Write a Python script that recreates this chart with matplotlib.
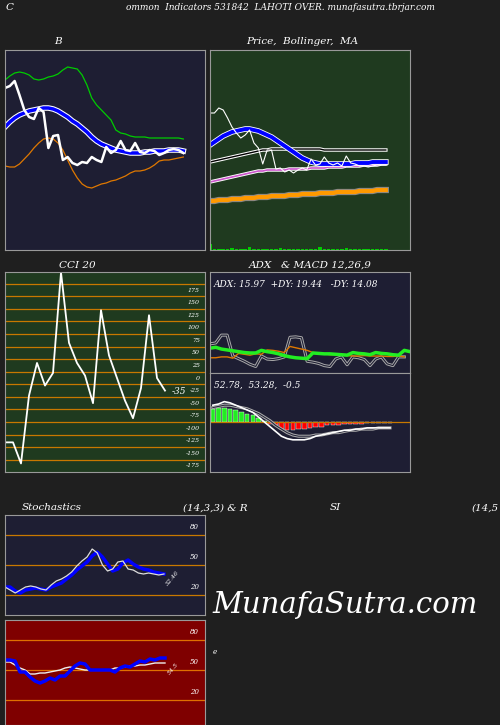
import numpy as np
import matplotlib.pyplot as plt

BG = '#1f1f1f'
NAVY = '#1e1e33'
GREEN_BG = '#1f3a1f'
RED_BG = '#7f0000'
ORANGE = '#c87800'

# Bollinger panel (values in panel units)
bb_close = [162, 164, 169, 155, 140, 133, 131, 142, 138, 102, 114, 115, 90, 93, 87, 85, 88, 87, 93, 90, 88,
            103, 97, 100, 109, 100, 99, 107, 98, 97, 100, 99, 95, 97, 100, 101, 100, 97]
bb_upper = [170, 174, 177, 178, 177, 175, 171, 170, 171, 173, 174, 176, 180, 183, 182, 181, 175, 165, 152, 145,
            140, 135, 130, 120, 117, 116, 114, 113, 113, 113, 112, 112, 112, 112, 112, 112, 112, 111]
bb_mid = [123, 128, 132, 135, 137, 139, 140, 141, 142, 142, 141, 139, 136, 133, 129, 126, 122, 118, 113, 109,
          106, 104, 102, 100, 99, 98, 97, 97, 97, 98, 98, 99, 99, 99, 100, 100, 100, 99]
bb_lower = [84, 83, 83, 86, 91, 96, 102, 107, 111, 112, 111, 107, 100, 90, 80, 72, 66, 63, 62, 64, 66, 67,
            69, 70, 72, 74, 77, 79, 79, 80, 82, 85, 89, 90, 90, 91, 92, 93]

# Price / MA panel
pr_close = [137, 137, 142, 140, 132, 123, 117, 112, 115, 120, 107, 102, 86, 100, 100, 81, 82, 78, 80, 77,
            80, 82, 80, 91, 85, 86, 93, 87, 85, 87, 84, 94, 87, 86, 84, 84, 83, 84, 85, 85, 85]
pr_ma1 = [105, 108, 111, 114, 116, 118, 119, 120, 121, 121, 120, 119, 117, 115, 113, 110, 107, 104, 101, 98,
          95, 92, 90, 88, 87, 86, 86, 86, 86, 86, 86, 86, 86, 87, 87, 87, 87, 88, 88, 88, 88]
pr_ma2 = [88, 89, 90, 91, 92, 93, 94, 95, 96, 97, 98, 99, 100, 100, 101, 101, 101, 101, 101, 101, 101,
          101, 101, 101, 101, 101, 100, 100, 100, 100, 100, 100, 100, 100, 100, 100, 100, 100, 100, 100, 100]
pr_ma3 = [68, 69, 70, 71, 72, 73, 74, 75, 76, 77, 78, 79, 79, 80, 80, 80, 80, 80, 81, 81, 81, 81,
          81, 82, 82, 82, 82, 83, 83, 83, 83, 84, 84, 84, 84, 85, 85, 85, 85, 86, 86]
pr_ma4 = [49, 49, 50, 50, 50, 51, 51, 51, 52, 52, 52, 53, 53, 53, 54, 54, 54, 54, 55, 55, 55,
          56, 56, 56, 56, 57, 57, 57, 57, 58, 58, 58, 58, 58, 59, 59, 59, 59, 60, 60, 60]
pr_vol = [6, 1, 1, 1, 1, 2, 1, 1, 1, 3, 1, 1, 1, 1, 1, 1, 2, 1, 1, 1, 1, 1, 1, 1, 1, 3, 1, 1, 1, 1,
          1, 2, 1, 1, 1, 1, 1, 1, 1, 1, 1]

# CCI 20
cci = [-128, -128, -170, -35, 30, -15, 10, 210, 70, 30, 5, -50, 135, 45, 0, -45, -80, -20, 125, 0, -25]
cci_ticks = [175, 150, 125, 100, 75, 50, 25, 0, -25, -50, -75, -100, -125, -150, -175]

# ADX (panel units)
adx_plus = [70, 72, 90, 90, 42, 36, 30, 23, 18, 42, 35, 34, 36, 40, 85, 86, 84, 30, 28, 25, 20,
            18, 35, 40, 22, 40, 38, 34, 20, 35, 40, 24, 20, 40, 40]
adx_minus = [38, 38, 40, 40, 37, 48, 46, 44, 47, 46, 56, 55, 53, 50, 64, 61, 58, 55, 50, 48, 47,
             45, 45, 44, 43, 42, 42, 43, 42, 42, 42, 41, 41, 42, 40]
adx_line = [60, 62, 58, 56, 54, 52, 50, 49, 49, 55, 52, 50, 47, 43, 40, 38, 37, 36, 49, 48, 47,
            47, 46, 45, 44, 50, 48, 47, 45, 50, 48, 47, 45, 44, 55, 52]
# MACD (panel units)
macd = [14, 15, 17, 16, 14, 12, 10, 8, 4, 0, -4, -8, -12, -14, -15, -15, -15, -14, -12, -11,
        -10, -9, -8, -7, -7, -6, -6, -5, -5, -5, -5, -5]
macd_sig = [12, 13, 14, 14, 13, 12, 11, 9, 7, 4, 1, -3, -6, -9, -11, -12, -12, -12, -11, -11,
            -10, -9, -9, -8, -7, -7, -6, -6, -6, -5, -5, -5]
macd_hist = [11, 12, 12, 11, 10, 8, 7, 6, 3, 1, -2, -3, -6, -7, -7, -6, -6, -5, -4, -4,
             -3, -3, -3, -2, -2, -2, -2, -1, -1, -1, -1, -1]

# Stochastics (14,3,3)
st_k = [20, 20, 16, 14, 17, 18, 19, 18, 17, 20, 22, 24, 28, 32, 37, 41, 45, 51, 55, 50, 43, 36,
        38, 44, 47, 43, 40, 38, 37, 35, 34, 33]
st_d = [20, 17, 14, 17, 20, 21, 20, 18, 17, 22, 26, 28, 31, 35, 41, 46, 50, 58, 54, 42, 36,
        38, 45, 46, 38, 37, 34, 33, 34, 33, 32, 33]
# RSI (14)
rsi = [52, 52, 51, 40, 40, 35, 31, 29, 31, 34, 32, 36, 36, 41, 46, 49, 48, 42, 42, 42, 42, 42,
       40, 44, 46, 45, 48, 51, 50, 53, 52, 54, 54]
rsi_ma = [50, 50, 47, 44, 42, 38, 38, 39, 39, 40, 41, 42, 44, 45, 44, 43, 42, 42, 42, 42, 42, 42,
          44, 44, 45, 46, 46, 47, 47, 48, 49, 49, 49]

fig = plt.figure(figsize=(5, 7.25), dpi=100, facecolor=BG)
SER = ['DejaVu Serif']


def panel(x, y, w, h, color):
    ax = fig.add_axes([x / 500, 1 - (y + h) / 725, w / 500, h / 725], facecolor=color)
    ax.set_xticks([])
    ax.set_yticks([])
    for s in ax.spines.values():
        s.set_color('#999999')
    return ax


def title(x, y, s, size=7.5):
    fig.text(x / 500, 1 - y / 725, s, color='white', fontsize=size, style='italic',
             family=SER, ha='center', va='center')


title(10, 7, 'C')
title(280, 7, 'ommon  Indicators 531842  LAHOTI OVER. munafasutra.tbrjar.com', 6.5)
title(58, 42, 'B')
title(302, 42, 'Price,  Bollinger,  MA')
title(77, 265, 'CCI 20')
title(310, 265, 'ADX   & MACD 12,26,9')
title(52, 508, 'Stochastics')
title(215, 508, '(14,3,3) & R')
title(335, 508, 'SI')
title(485, 508, '(14,5')
fig.text(345 / 500, 1 - 605 / 725, 'MunafaSutra.com', color='white', fontsize=21,
         style='italic', family=SER, ha='center', va='center')

# Bollinger
ax = panel(5, 50, 200, 200, NAVY)
x = np.arange(len(bb_close))
ax.plot(x, bb_upper, color='#00cc00', lw=0.9)
ax.plot(x, bb_lower, color='#e07800', lw=0.9)
ax.plot(x, bb_mid, color='white', lw=4)
ax.plot(x, bb_mid, color='blue', lw=2.5)
ax.plot(x, bb_close, color='white', lw=1.8)
ax.set_xlim(0, 41.5)
ax.set_ylim(0, 200)

# Price / MA
ax = panel(210, 50, 200, 200, GREEN_BG)
x = np.arange(len(pr_close))
ax.bar(x, pr_vol, width=0.8, color='#00cc00')
ax.plot(x, pr_ma4, color='#888888', lw=4.5)
ax.plot(x, pr_ma4, color='#ff9900', lw=3)
ax.plot(x, pr_ma3, color='white', lw=2.5)
ax.plot(x, pr_ma3, color='#cc55cc', lw=1.2)
ax.plot(x, pr_ma2, color='white', lw=2.5)
ax.plot(x, pr_ma2, color='black', lw=1)
ax.plot(x, pr_ma1, color='white', lw=4)
ax.plot(x, pr_ma1, color='blue', lw=2.8)
ax.plot(x, pr_close, color='white', lw=0.8)
ax.set_xlim(0, 45.5)
ax.set_ylim(0, 200)

# CCI
ax = panel(5, 272, 200, 200, GREEN_BG)
for v in np.arange(-162.5, 200, 25):
    ax.axhline(v, color=ORANGE, lw=0.9)
for v in cci_ticks:
    ax.text(0.975, v, str(v), transform=ax.get_yaxis_transform(), color='white',
            fontsize=4.5, style='italic', family=SER, ha='right', va='center')
x = np.arange(len(cci))
ax.plot(x, cci, color='white', lw=1.3)
ax.text(len(cci) - 0.2, cci[-1] - 6, '-35', color='white', fontsize=6.5, style='italic', family=SER)
ax.set_xlim(0, 25)
ax.set_ylim(-187, 211)

# ADX
ax = panel(210, 272, 200, 101, NAVY)
ax.text(0.02, 0.88, 'ADX: 15.97  +DY: 19.44   -DY: 14.08', transform=ax.transAxes, color='white',
        fontsize=6.5, style='italic', family=SER, va='center')
ax.plot(np.arange(len(adx_plus)), adx_plus, color='#aaaaaa', lw=2.2)
ax.plot(np.arange(len(adx_plus)), adx_plus, color=NAVY, lw=0.8)
ax.plot(np.arange(len(adx_minus)), adx_minus, color='#e07800', lw=1)
ax.plot(np.arange(len(adx_line)), adx_line, color='#22ee22', lw=2.5)
ax.set_xlim(0, 35)
ax.set_ylim(3, 235)

# MACD
ax = panel(210, 373, 200, 99, NAVY)
ax.text(0.02, 0.88, '52.78,  53.28,  -0.5', transform=ax.transAxes, color='white',
        fontsize=6.5, style='italic', family=SER, va='center')
ax.axhline(0, color=ORANGE, lw=0.9)
x = np.arange(len(macd_hist))
ax.bar(x, macd_hist, width=0.8, color=['#22ee22' if v > 0 else '#ff0000' for v in macd_hist],
       edgecolor='white', linewidth=0.3)
ax.plot(x, macd_sig, color='#aaaaaa', lw=2.2)
ax.plot(x, macd_sig, color=NAVY, lw=0.7)
ax.plot(x, macd, color='white', lw=1.2)
ax.set_xlim(-0.5, 34.5)
ax.set_ylim(-42, 41)

# Stochastics
ax = panel(5, 515, 200, 100, NAVY)
for v in [72, 42, 12]:
    ax.axhline(v, color=ORANGE, lw=0.9)
for v in [80, 50, 20]:
    ax.text(0.97, v, str(v), transform=ax.get_yaxis_transform(), color='white', fontsize=5,
            style='italic', family=SER, ha='right', va='center')
x = np.arange(len(st_k))
ax.plot(x, st_k, color='blue', lw=2.5)
ax.plot(x, st_d, color='#dddddd', lw=0.9)
ax.text(len(st_k) + 0.6, st_k[-1] - 4, '32.46', color='white', fontsize=4.5, rotation=50,
        style='italic', family=SER, ha='center', va='center')
ax.set_xlim(0, 39)
ax.set_ylim(-8, 92)

# RSI
ax = panel(5, 620, 200, 105, RED_BG)
for v in [72, 42, 12]:
    ax.axhline(v, color='#e07000', lw=0.9)
for v in [80, 50, 20]:
    ax.text(0.97, v, str(v), transform=ax.get_yaxis_transform(), color='white', fontsize=5,
            style='italic', family=SER, ha='right', va='center')
x = np.arange(len(rsi))
ax.plot(x, rsi_ma, color='#eeeeee', lw=1)
ax.plot(x, rsi, color='blue', lw=2.5)
ax.text(len(rsi) + 0.7, rsi_ma[-1] - 6, '54.5', color='white', fontsize=4.5, rotation=50,
        style='italic', family=SER, ha='center', va='center')
ax.set_xlim(0, 40)
ax.set_ylim(-13, 92)
fig.text(213 / 500, 1 - 654 / 725, 'e', color='white', fontsize=5, family=SER, style='italic')

fig.savefig('out.png', dpi=100, facecolor=BG)
